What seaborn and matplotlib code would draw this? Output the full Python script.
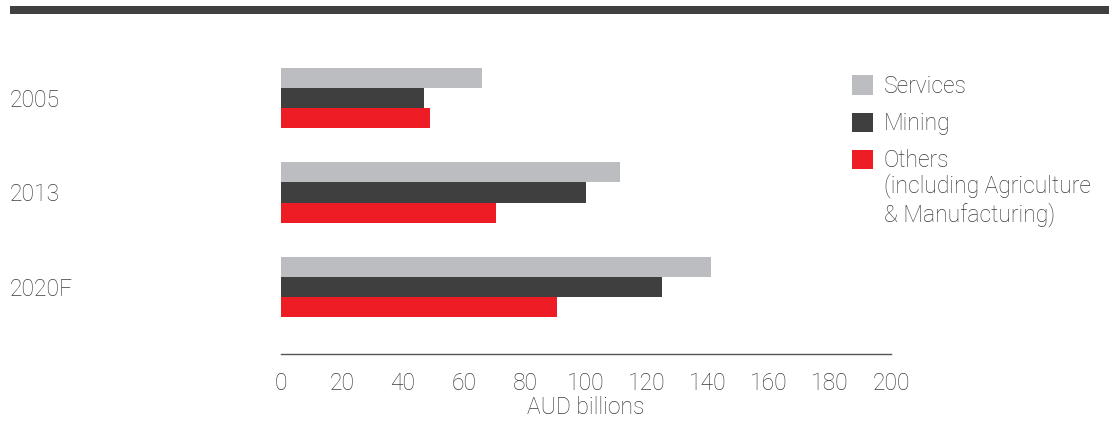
import pandas as pd
import matplotlib.pyplot as plt
import matplotlib.patches as mpatches
import seaborn as sns

# valores (AUD bilhoes)
anos = ["2005", "2013", "2020F"]
setores = ["Services", "Mining", "Others"]
services = [66, 111, 141]
mining = [47, 100, 125]
others = [49, 70.5, 90.5]
cores = ["#bcbdc1", "#3f3f3f", "#ee1c25"]
ticks_x = list(range(0, 201, 20))

df = pd.DataFrame({
    "ano": anos * 3,
    "setor": [s for s in setores for _ in anos],
    "valor": services + mining + others,
})

sns.set_style("white")
plt.rcParams["font.family"] = ["Roboto", "DejaVu Sans"]
cinza_txt = "#3c3c3c"
tam = 16.5
peso = "light"

fig = plt.figure(figsize=(11.09, 4.23), dpi=100)
ax = fig.add_axes([281 / 1109, 1 - 354 / 423, 610 / 1109, 314 / 423])

sns.barplot(data=df, y="ano", x="valor", hue="setor", order=anos, hue_order=setores,
            palette=cores, width=0.64, gap=0, orient="h", ax=ax, legend=False,
            saturation=1, linewidth=0)

ax.set_xlim(0, 200)
ax.set_ylim(2.713, -0.617)
ax.set_xticks(ticks_x)
ax.set_xticklabels([str(t) for t in ticks_x], fontsize=tam, color=cinza_txt, fontweight=peso)
ax.set_yticks(range(len(anos)))
ax.set_yticklabels(anos, fontsize=tam, color=cinza_txt, fontweight=peso)
for lab in ax.get_yticklabels():
    lab.set_horizontalalignment("left")
ax.tick_params(axis="y", length=0, pad=271 * 0.72)
ax.tick_params(axis="x", length=0, pad=13)
ax.set_xlabel("AUD billions", fontsize=tam, color=cinza_txt, fontweight=peso, labelpad=1)
ax.set_ylabel("")
sns.despine(ax=ax, left=True, top=True, right=True)
ax.spines["bottom"].set_color("#555555")
ax.spines["bottom"].set_linewidth(1)

# faixa escura no topo
fig.add_artist(mpatches.Rectangle((10 / 1109, 1 - 14 / 423), 1, 8 / 423,
                                  transform=fig.transFigure, color="#404040", lw=0))

# legenda
handles = [mpatches.Patch(color=c, lw=0) for c in cores]
leg = fig.legend(handles, setores, loc="upper left", bbox_to_anchor=(852 / 1109, 1 - 75 / 423),
                 frameon=False, fontsize=tam, handlelength=0.92, handleheight=0.92,
                 handletextpad=0.45, labelspacing=0.62, borderaxespad=0, borderpad=0)
for t in leg.get_texts():
    t.set_color(cinza_txt)
    t.set_fontweight(peso)
fig.text(884 / 1109, 1 - 173 / 423, "(including Agriculture\n& Manufacturing)",
         fontsize=tam, color=cinza_txt, fontweight=peso, va="top", ha="left",
         linespacing=1.25)

fig.savefig("out.png", dpi=100)
